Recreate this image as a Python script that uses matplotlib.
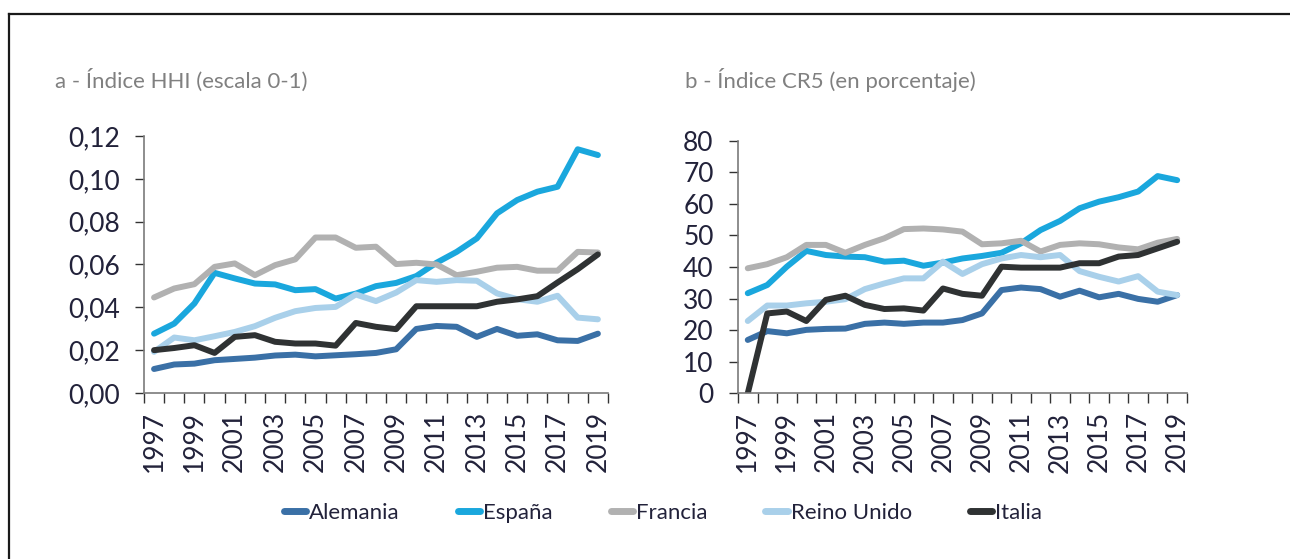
import matplotlib.pyplot as plt
from matplotlib.lines import Line2D
from matplotlib.ticker import FixedLocator, FuncFormatter

plt.rcParams['font.family'] = ['Lato', 'DejaVu Sans']

years = [1997, 1998, 1999, 2000, 2001, 2002, 2003, 2004, 2005, 2006, 2007, 2008,
         2009, 2010, 2011, 2012, 2013, 2014, 2015, 2016, 2017, 2018, 2019]

# a - HHI index (0-1 scale)
hhi_alemania = [0.0112, 0.0133, 0.0137, 0.0153, 0.0159, 0.0165, 0.0175, 0.0179, 0.0171, 0.0176, 0.0181, 0.0187,
                0.0204, 0.0299, 0.0313, 0.0309, 0.0262, 0.0299, 0.0267, 0.0274, 0.0246, 0.0243, 0.0277]
hhi_espana = [0.0277, 0.0324, 0.0418, 0.0561, 0.0535, 0.0511, 0.0507, 0.0480, 0.0485, 0.0441, 0.0464, 0.0499,
              0.0514, 0.0546, 0.0608, 0.0659, 0.0722, 0.0839, 0.0901, 0.0940, 0.0963, 0.1138, 0.1111]
hhi_francia = [0.0446, 0.0488, 0.0508, 0.0589, 0.0605, 0.0550, 0.0597, 0.0624, 0.0726, 0.0726, 0.0678, 0.0683,
               0.0602, 0.0608, 0.0600, 0.0550, 0.0566, 0.0585, 0.0589, 0.0571, 0.0571, 0.0659, 0.0656]
hhi_reino_unido = [0.0192, 0.0259, 0.0246, 0.0265, 0.0285, 0.0312, 0.0351, 0.0382, 0.0397, 0.0402, 0.0460, 0.0429,
                   0.0469, 0.0527, 0.0519, 0.0527, 0.0524, 0.0465, 0.0438, 0.0426, 0.0454, 0.0352, 0.0344]
hhi_italia = [0.0200, 0.0210, 0.0223, 0.0187, 0.0262, 0.0270, 0.0239, 0.0231, 0.0231, 0.0221, 0.0327, 0.0309,
              0.0298, 0.0405, 0.0405, 0.0405, 0.0405, 0.0426, 0.0437, 0.0452, 0.0516, 0.0578, 0.0647]

# b - CR5 index (percent)
cr5_alemania = [16.9, 19.7, 19.0, 20.1, 20.4, 20.5, 22.0, 22.4, 22.0, 22.4, 22.4, 23.2,
                25.3, 32.7, 33.5, 33.0, 30.6, 32.5, 30.4, 31.5, 29.9, 29.0, 31.1]
cr5_espana = [31.7, 34.3, 40.1, 45.1, 43.8, 43.3, 43.1, 41.7, 42.0, 40.4, 41.4, 42.7,
              43.5, 44.5, 47.5, 51.7, 54.6, 58.6, 60.7, 62.1, 63.9, 68.8, 67.5]
cr5_francia = [39.6, 40.9, 43.1, 47.0, 47.0, 44.5, 47.0, 49.1, 52.0, 52.2, 51.9, 51.2,
               47.2, 47.5, 48.3, 44.9, 47.0, 47.5, 47.2, 46.2, 45.6, 47.7, 48.9]
cr5_reino_unido = [22.9, 27.8, 27.8, 28.5, 29.0, 29.8, 33.0, 34.8, 36.4, 36.4, 41.7, 37.8,
                   40.9, 42.7, 43.8, 43.1, 43.8, 38.7, 36.9, 35.4, 37.1, 32.2, 31.1]
cr5_italia = [0.0, 25.3, 25.9, 22.9, 29.6, 30.9, 28.0, 26.7, 26.9, 26.2, 33.2, 31.5,
              30.9, 40.1, 39.8, 39.8, 39.8, 41.2, 41.2, 43.3, 43.8, 45.9, 48.0]

paises = ['Alemania', 'España', 'Francia', 'Reino Unido', 'Italia']
colores = ['#3a70a6', '#1aa7dd', '#b1b1b1', '#a9d0ea', '#2f3233']
hhi = [hhi_alemania, hhi_espana, hhi_francia, hhi_reino_unido, hhi_italia]
cr5 = [cr5_alemania, cr5_espana, cr5_francia, cr5_reino_unido, cr5_italia]

text_col = '#22223a'
axis_col = '#7a7a7a'

fig = plt.figure(figsize=(12.9, 5.59), dpi=100)
ax1 = fig.add_axes([0.1116, 0.297, 0.3597, 0.4597])
ax2 = fig.add_axes([0.5721, 0.2964, 0.348, 0.4519])

x = list(range(len(years)))


def style_axis(ax, ylim, yticks, fmt):
    ax.set_xlim(-0.5, len(years) - 0.5)
    ax.set_ylim(*ylim)
    for s in ['top', 'right']:
        ax.spines[s].set_visible(False)
    for s in ['left', 'bottom']:
        ax.spines[s].set_color(axis_col)
        ax.spines[s].set_linewidth(1.2)
    ax.set_yticks(yticks)
    ax.yaxis.set_major_formatter(FuncFormatter(fmt))
    ax.tick_params(axis='y', direction='out', length=6.5, width=1.0, color='#333333',
                   pad=11, labelsize=19, labelcolor=text_col)
    # labels every other year, tick marks between categories
    ax.set_xticks(x[::2])
    ax.set_xticklabels([str(y) for y in years[::2]], rotation=90)
    ax.tick_params(axis='x', which='major', length=0, pad=13, labelsize=19, labelcolor=text_col)
    ax.xaxis.set_minor_locator(FixedLocator([i - 0.5 for i in range(len(years) + 1)]))
    ax.tick_params(axis='x', which='minor', direction='out', length=7, width=1.0, color='#333333')


for serie, col, nombre in zip(hhi, colores, paises):
    ax1.plot(x, serie, color=col, lw=4.3, solid_capstyle='round', solid_joinstyle='round', label=nombre)
for serie, col in zip(cr5, colores):
    ax2.plot(x, serie, color=col, lw=4.3, solid_capstyle='round', solid_joinstyle='round')

style_axis(ax1, (0, 0.12), [0, 0.02, 0.04, 0.06, 0.08, 0.10, 0.12],
           lambda v, p: f'{v:.2f}'.replace('.', ','))
style_axis(ax2, (0, 80), list(range(0, 81, 10)), lambda v, p: f'{v:.0f}')

fig.text(55 / 1290, 1 - 80 / 559, 'a - Índice HHI (escala 0-1)', fontsize=16,
         color='#808080', va='center', ha='left')
fig.text(685 / 1290, 1 - 80 / 559, 'b - Índice CR5 (en porcentaje)', fontsize=16,
         color='#808080', va='center', ha='left')

handles = [Line2D([0], [0], color=c, lw=5, solid_capstyle='round') for c in colores]
leg = fig.legend(handles, paises, loc='center', bbox_to_anchor=(663 / 1290, 1 - 513 / 559),
                 ncol=5, frameon=False, fontsize=16, handlelength=1.0, handletextpad=0.15,
                 columnspacing=2.6)
for t in leg.get_texts():
    t.set_color(text_col)

# outer frame: top and left edges only
fig.add_artist(Line2D([9 / 1290, 1], [1 - 14 / 559, 1 - 14 / 559], color='#1a1a1a', lw=1.6,
                      transform=fig.transFigure))
fig.add_artist(Line2D([9 / 1290, 9 / 1290], [0, 1 - 14 / 559], color='#1a1a1a', lw=1.6,
                      transform=fig.transFigure))

fig.savefig('out.png', dpi=100)
